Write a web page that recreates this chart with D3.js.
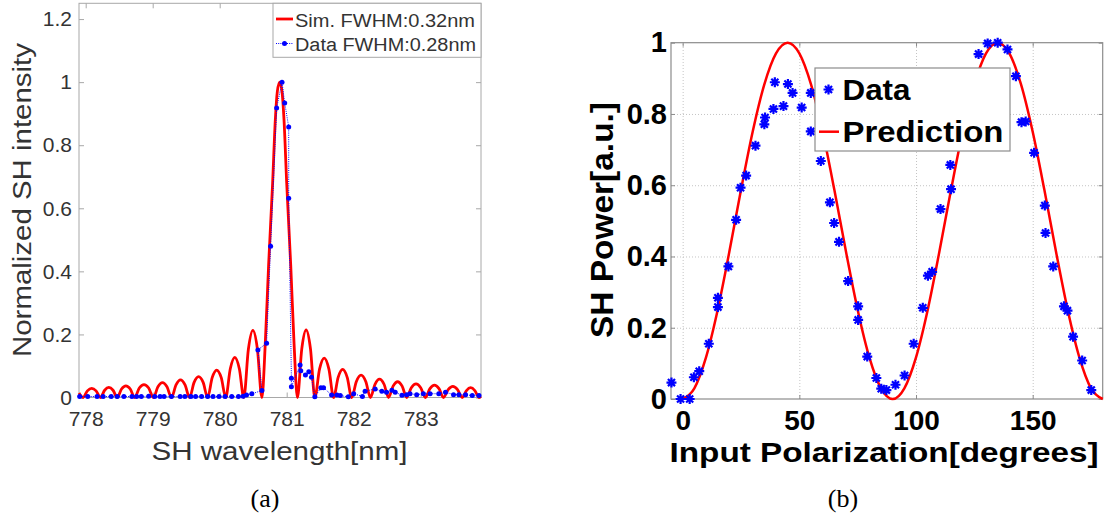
<!DOCTYPE html>
<meta charset="utf-8">
<html>
<head>
<style>
body {
  margin: 0;
  background: #fff;
}
svg text {
  font-family: "Liberation Sans", Arial, Helvetica, sans-serif;
}
.grid line {
  stroke: #c4c4c4;
  stroke-dasharray: 1,2;
}
.grid path {
  stroke-width: 0;
}
</style>
</head>
<body>
<div id="my_dataviz"></div>

<script src="https://d3js.org/d3.v7.min.js"></script>
<script>

// ---- panel (a) : SH spectrum ----
var simWavelength = [777.90, 777.96, 778.025, 778.09, 778.155, 778.22, 778.283, 778.345, 778.408, 778.47,
  778.535, 778.60, 778.665, 778.73, 778.80, 778.87, 778.94, 779.01, 779.078, 779.145, 779.213, 779.28,
  779.348, 779.415, 779.483, 779.55, 779.618, 779.685, 779.753, 779.82, 779.888, 779.955, 780.023, 780.09,
  780.158, 780.225, 780.293, 780.36, 780.428, 780.495, 780.563, 780.63,
  780.68, 780.73, 780.79, 780.83, 780.86, 780.895, 780.93, 780.96, 781.00, 781.06, 781.11, 781.16,
  781.225, 781.29, 781.355, 781.42, 781.49, 781.56, 781.63, 781.70, 781.768, 781.835, 781.903, 781.97,
  782.04, 782.11, 782.18, 782.25, 782.318, 782.385, 782.453, 782.52, 782.588, 782.655, 782.723, 782.79,
  782.86, 782.93, 783.00, 783.07, 783.138, 783.205, 783.273, 783.34, 783.41, 783.48, 783.55, 783.62,
  783.683, 783.745, 783.808, 783.87, 783.90];
var simIntensity = [0.014, 0, 0.021, 0.029, 0.021, 0, 0.023, 0.032, 0.023, 0,
  0.027, 0.037, 0.027, 0, 0.030, 0.041, 0.030, 0, 0.034, 0.047, 0.034, 0,
  0.040, 0.056, 0.040, 0, 0.048, 0.066, 0.048, 0, 0.063, 0.087, 0.063, 0,
  0.091, 0.127, 0.091, 0, 0.153, 0.213, 0.153, 0,
  0.17, 0.42, 0.68, 0.88, 0.97, 1.0, 0.97, 0.88, 0.68, 0.42, 0.17, 0,
  0.154, 0.214, 0.154, 0, 0.090, 0.125, 0.090, 0, 0.064, 0.089, 0.064, 0,
  0.051, 0.071, 0.051, 0, 0.042, 0.058, 0.042, 0, 0.036, 0.050, 0.036, 0,
  0.031, 0.043, 0.031, 0, 0.028, 0.039, 0.028, 0, 0.025, 0.035, 0.025, 0,
  0.022, 0.031, 0.022, 0, 0.004];

var dataWavelength = [777.91, 778.03, 778.17, 778.26, 778.38, 778.47, 778.57, 778.69, 778.76, 778.83,
  778.94, 779.03, 779.11, 779.17, 779.28, 779.41, 779.48, 779.57, 779.64, 779.73, 779.82, 779.90,
  779.99, 780.08, 780.18, 780.28, 780.35, 780.40, 780.48, 780.63, 780.57, 780.70, 780.76, 780.85,
  780.93, 780.97, 781.03, 781.03, 781.07, 781.07, 781.20, 781.21, 781.28, 781.33, 781.37, 781.42,
  781.51, 781.55, 781.67, 781.75, 781.80, 781.92, 782.00, 782.13, 782.17, 782.32, 782.42, 782.49,
  782.57, 782.62, 782.72, 782.79, 782.84, 782.94, 783.04, 783.14, 783.27, 783.37, 783.49, 783.57,
  783.67, 783.77, 783.87];
var dataIntensity = [0.003, 0.003, 0.003, 0.003, 0.003, 0.003, 0.003, 0.003, 0.003, 0.003,
  0.004, 0.003, 0.003, 0.003, 0.003, 0.003, 0.003, 0.003, 0.003, 0.003, 0.003, 0.003,
  0.003, 0.003, 0.003, 0.003, 0.004, 0.008, 0.012, 0.022, 0.151, 0.172, 0.480, 0.918,
  1.000, 0.934, 0.858, 0.632, 0.061, 0.034, 0.103, 0.085, 0.071, 0.082, 0.064, 0.002,
  0.031, 0.031, 0.008, 0.008, 0.006, 0.002, 0.012, 0.003, 0.020, 0.027, 0.020, 0.017,
  0.023, 0.017, 0.007, 0.009, 0.012, 0.009, 0.012, 0.012, 0.012, 0.017, 0.009, 0.009,
  0.009, 0.006, 0.006];

var xTicksA = [778, 779, 780, 781, 782, 783];
var yTicksA = [0, 0.2, 0.4, 0.6, 0.8, 1, 1.2];

// ---- panel (b) : polarization ----
var polAngle = [-4.8, -0.9, 3.0, 4.8, 7.1, 11.2, 15.1, 15.1, 19.6, 22.9, 24.8, 27.2, 31.2, 35.0, 35.3,
  38.9, 39.5, 43.2, 45.1, 47.1, 51.0, 54.9, 54.9, 59.2, 63.1, 64.9, 67.0, 70.9, 75.2, 75.2, 79.1,
  83.0, 85.1, 87.3, 91.2, 95.1, 99.0, 102.9, 105.1, 106.9, 110.5, 115.0, 114.7, 126.8, 130.7, 135.0,
  139.2, 142.8, 145.2, 147.0, 150.6, 155.2, 155.5, 158.8, 163.4, 164.9, 167.3, 171.2, 175.1];
var polPower = [0.046, 0.0, 0.0, 0.061, 0.078, 0.155, 0.258, 0.284, 0.372, 0.503, 0.593, 0.627, 0.711, 0.771, 0.790,
  0.814, 0.889, 0.822, 0.884, 0.859, 0.818, 0.859, 0.751, 0.668, 0.552, 0.494, 0.441, 0.331, 0.260, 0.222, 0.119,
  0.059, 0.029, 0.025, 0.040, 0.066, 0.155, 0.256, 0.346, 0.357, 0.533, 0.589, 0.657, 0.968, 0.998, 1.0,
  0.981, 0.906, 0.777, 0.779, 0.691, 0.543, 0.466, 0.372, 0.260, 0.248, 0.175, 0.108, 0.025];

var predAngle = [0, 5, 10, 15, 20, 25, 30, 35, 40, 45, 50, 55, 60, 65, 70, 75, 80, 85, 90,
  95, 100, 105, 110, 115, 120, 125, 130, 135, 140, 145, 150, 155, 160, 165, 170, 175, 180];
var predPower = [0, 0.030, 0.117, 0.250, 0.413, 0.587, 0.750, 0.883, 0.970, 1.0, 0.970, 0.883, 0.750, 0.587, 0.413, 0.250, 0.117, 0.030, 0,
  0.030, 0.117, 0.250, 0.413, 0.587, 0.750, 0.883, 0.970, 1.0, 0.970, 0.883, 0.750, 0.587, 0.413, 0.250, 0.117, 0.030, 0];

var xTicksB = [0, 50, 100, 150];
var yTicksB = [0, 0.2, 0.4, 0.6, 0.8, 1];

var svg = d3.select("#my_dataviz")
  .append("svg")
    .attr("width", 1112)
    .attr("height", 521);

// =================== panel (a) ===================
var boxA = {left: 79, right: 481, top: 3.3, bottom: 397.5};
var xA = d3.scaleLinear().domain([777.9, 783.9]).range([boxA.left, boxA.right]);
var yA = d3.scaleLinear().domain([0, 1.25]).range([boxA.bottom, boxA.top]);
var textA = "#333";

svg.append("rect")
  .attr("x", boxA.left).attr("y", boxA.top)
  .attr("width", boxA.right - boxA.left).attr("height", boxA.bottom - boxA.top)
  .attr("fill", "#fff").attr("stroke", "#a8a8a8").attr("stroke-width", 1);

var gxA = svg.append("g")
  .attr("transform", "translate(0," + boxA.bottom + ")")
  .call(d3.axisBottom(xA).tickValues(xTicksA).tickFormat(d3.format("d"))
    .tickSizeInner(-5).tickSizeOuter(0).tickPadding(14));
var gyA = svg.append("g")
  .attr("transform", "translate(" + boxA.left + ",0)")
  .call(d3.axisLeft(yA).tickValues(yTicksA).tickFormat(d3.format("~g"))
    .tickSizeInner(-5).tickSizeOuter(0).tickPadding(7));
var gtA = svg.append("g")
  .attr("transform", "translate(0," + boxA.top + ")")
  .call(d3.axisTop(xA).tickValues(xTicksA).tickFormat("").tickSizeInner(-5).tickSizeOuter(0));
var grA = svg.append("g")
  .attr("transform", "translate(" + boxA.right + ",0)")
  .call(d3.axisRight(yA).tickValues(yTicksA).tickFormat("").tickSizeInner(-5).tickSizeOuter(0));

[gxA, gyA, gtA, grA].forEach(function(g) {
  g.select(".domain").remove();
  g.selectAll(".tick line").attr("stroke", "#a8a8a8");
  g.selectAll("text").attr("fill", textA).style("font-size", "21px");
});

// simulated curve
var simLine = d3.line()
  .x(function(i) { return xA(simWavelength[i]) })
  .y(function(i) { return yA(simIntensity[i]) })
  .curve(d3.curveMonotoneX);
svg.append("path")
  .datum(d3.range(simWavelength.length))
  .attr("d", simLine)
  .attr("fill", "none")
  .attr("stroke", "#ff0000")
  .attr("stroke-width", 2.8);

// measured data
var dataLine = d3.line()
  .x(function(i) { return xA(dataWavelength[i]) })
  .y(function(i) { return yA(dataIntensity[i]) });
svg.append("path")
  .datum(d3.range(dataWavelength.length))
  .attr("d", dataLine)
  .attr("fill", "none")
  .attr("stroke", "#0000ff")
  .attr("stroke-width", 1)
  .attr("stroke-dasharray", "1,1.2");
svg.append("g")
  .selectAll("circle")
  .data(d3.range(dataWavelength.length))
  .enter()
  .append("circle")
    .attr("cx", function(i) { return xA(dataWavelength[i]) })
    .attr("cy", function(i) { return yA(dataIntensity[i]) })
    .attr("r", 2.5)
    .attr("fill", "#0000ff");

// legend (a)
svg.append("rect")
  .attr("x", 273).attr("y", boxA.top)
  .attr("width", boxA.right - 273).attr("height", 54)
  .attr("fill", "#fff").attr("stroke", "#a8a8a8");
svg.append("line")
  .attr("x1", 276).attr("x2", 293).attr("y1", 19).attr("y2", 19)
  .attr("stroke", "#ff0000").attr("stroke-width", 2.8);
svg.append("text")
  .attr("x", 295).attr("y", 26.5)
  .attr("fill", textA).style("font-size", "18px")
  .attr("textLength", 180).attr("lengthAdjust", "spacingAndGlyphs")
  .text("Sim. FWHM:0.32nm");
svg.append("line")
  .attr("x1", 276).attr("x2", 293).attr("y1", 43.5).attr("y2", 43.5)
  .attr("stroke", "#0000ff").attr("stroke-width", 1).attr("stroke-dasharray", "1,1.2");
svg.append("circle")
  .attr("cx", 284.5).attr("cy", 43.5).attr("r", 2.5).attr("fill", "#0000ff");
svg.append("text")
  .attr("x", 295).attr("y", 51)
  .attr("fill", textA).style("font-size", "18px")
  .attr("textLength", 181).attr("lengthAdjust", "spacingAndGlyphs")
  .text("Data FWHM:0.28nm");

// axis labels (a)
svg.append("text")
  .attr("x", 279.5).attr("y", 460)
  .attr("text-anchor", "middle")
  .attr("fill", textA).style("font-size", "26px")
  .attr("textLength", 256).attr("lengthAdjust", "spacingAndGlyphs")
  .text("SH wavelength[nm]");
svg.append("text")
  .attr("transform", "translate(31,200) rotate(-90)")
  .attr("text-anchor", "middle")
  .attr("fill", textA).style("font-size", "26px")
  .attr("textLength", 314).attr("lengthAdjust", "spacingAndGlyphs")
  .text("Normalized SH intensity");
svg.append("text")
  .attr("x", 265).attr("y", 507)
  .attr("text-anchor", "middle")
  .style("font-family", "'Liberation Serif', 'Times New Roman', serif")
  .style("font-size", "26px")
  .attr("fill", "#000")
  .text("(a)");

// =================== panel (b) ===================
var boxB = {left: 671, right: 1102.7, top: 42.7, bottom: 399};
var xB = d3.scaleLinear().domain([-5, 180]).range([boxB.left, boxB.right]);
var yB = d3.scaleLinear().domain([0, 1]).range([boxB.bottom, boxB.top]);

svg.append("rect")
  .attr("x", boxB.left).attr("y", boxB.top)
  .attr("width", boxB.right - boxB.left).attr("height", boxB.bottom - boxB.top)
  .attr("fill", "#fff");

// gridlines
svg.append("g")
  .attr("class", "grid")
  .attr("transform", "translate(0," + boxB.bottom + ")")
  .call(d3.axisBottom(xB).tickValues(xTicksB)
    .tickSize(-(boxB.bottom - boxB.top)).tickFormat(""));
svg.append("g")
  .attr("class", "grid")
  .attr("transform", "translate(" + boxB.left + ",0)")
  .call(d3.axisLeft(yB).tickValues(yTicksB.slice(1, 5))
    .tickSize(-(boxB.right - boxB.left)).tickFormat(""));

svg.append("rect")
  .attr("x", boxB.left).attr("y", boxB.top)
  .attr("width", boxB.right - boxB.left).attr("height", boxB.bottom - boxB.top)
  .attr("fill", "none").attr("stroke", "#8c8c8c").attr("stroke-width", 1.2);

var gxB = svg.append("g")
  .attr("transform", "translate(0," + boxB.bottom + ")")
  .call(d3.axisBottom(xB).tickValues(xTicksB).tickFormat(d3.format("d"))
    .tickSizeInner(-4).tickSizeOuter(0).tickPadding(11));
var gyB = svg.append("g")
  .attr("transform", "translate(" + boxB.left + ",0)")
  .call(d3.axisLeft(yB).tickValues(yTicksB).tickFormat(d3.format("~g"))
    .tickSizeInner(-4).tickSizeOuter(0).tickPadding(4));
var gtB = svg.append("g")
  .attr("transform", "translate(0," + boxB.top + ")")
  .call(d3.axisTop(xB).tickValues(xTicksB).tickFormat("").tickSizeInner(-4).tickSizeOuter(0));
var grB = svg.append("g")
  .attr("transform", "translate(" + boxB.right + ",0)")
  .call(d3.axisRight(yB).tickValues(yTicksB).tickFormat("").tickSizeInner(-4).tickSizeOuter(0));

[gxB, gyB, gtB, grB].forEach(function(g) {
  g.select(".domain").remove();
  g.selectAll(".tick line").attr("stroke", "#8c8c8c");
  g.selectAll("text").attr("fill", "#000")
    .style("font-size", "29px").style("font-weight", "bold");
});
gxB.selectAll("text").style("font-size", "28px");

// prediction
var predLine = d3.line()
  .x(function(i) { return xB(predAngle[i]) })
  .y(function(i) { return yB(predPower[i]) })
  .curve(d3.curveMonotoneX);
svg.append("path")
  .datum(d3.range(predAngle.length))
  .attr("d", predLine)
  .attr("fill", "none")
  .attr("stroke", "#ff0000")
  .attr("stroke-width", 2.5);

// asterisk marker like matlab '*'
function asterisk(r) {
  var a = r * 0.7071;
  return "M" + (-r) + ",0L" + r + ",0M0," + (-r) + "L0," + r +
    "M" + (-a) + "," + (-a) + "L" + a + "," + a +
    "M" + (-a) + "," + a + "L" + a + "," + (-a);
}

svg.append("g")
  .selectAll("path")
  .data(d3.range(polAngle.length))
  .enter()
  .append("path")
    .attr("transform", function(i) { return "translate(" + xB(polAngle[i]) + "," + yB(polPower[i]) + ")" })
    .attr("d", asterisk(5))
    .attr("fill", "none")
    .attr("stroke", "#0000ff")
    .attr("stroke-width", 2.2);

// legend (b)
svg.append("rect")
  .attr("x", 815).attr("y", 68)
  .attr("width", 195).attr("height", 83)
  .attr("fill", "#fff").attr("stroke", "#8c8c8c").attr("stroke-width", 1.2);
svg.append("path")
  .attr("transform", "translate(828.5,89.5)")
  .attr("d", asterisk(5))
  .attr("fill", "none").attr("stroke", "#0000ff").attr("stroke-width", 2.2);
svg.append("text")
  .attr("x", 842.5).attr("y", 100)
  .style("font-size", "30px").style("font-weight", "bold")
  .attr("textLength", 68).attr("lengthAdjust", "spacingAndGlyphs")
  .text("Data");
svg.append("line")
  .attr("x1", 819).attr("x2", 839).attr("y1", 131.7).attr("y2", 131.7)
  .attr("stroke", "#ff0000").attr("stroke-width", 2.5);
svg.append("text")
  .attr("x", 842.5).attr("y", 141.7)
  .style("font-size", "30px").style("font-weight", "bold")
  .attr("textLength", 161).attr("lengthAdjust", "spacingAndGlyphs")
  .text("Prediction");

// axis labels (b)
svg.append("text")
  .attr("x", 884).attr("y", 462)
  .attr("text-anchor", "middle")
  .style("font-size", "28px").style("font-weight", "bold")
  .attr("textLength", 429).attr("lengthAdjust", "spacingAndGlyphs")
  .text("Input Polarization[degrees]");
svg.append("text")
  .attr("transform", "translate(613,220) rotate(-90)")
  .attr("text-anchor", "middle")
  .style("font-size", "31px").style("font-weight", "bold")
  .attr("textLength", 236).attr("lengthAdjust", "spacingAndGlyphs")
  .text("SH Power[a.u.]");
svg.append("text")
  .attr("x", 843).attr("y", 507)
  .attr("text-anchor", "middle")
  .style("font-family", "'Liberation Serif', 'Times New Roman', serif")
  .style("font-size", "26px")
  .text("(b)");

</script>
</body>
</html>
